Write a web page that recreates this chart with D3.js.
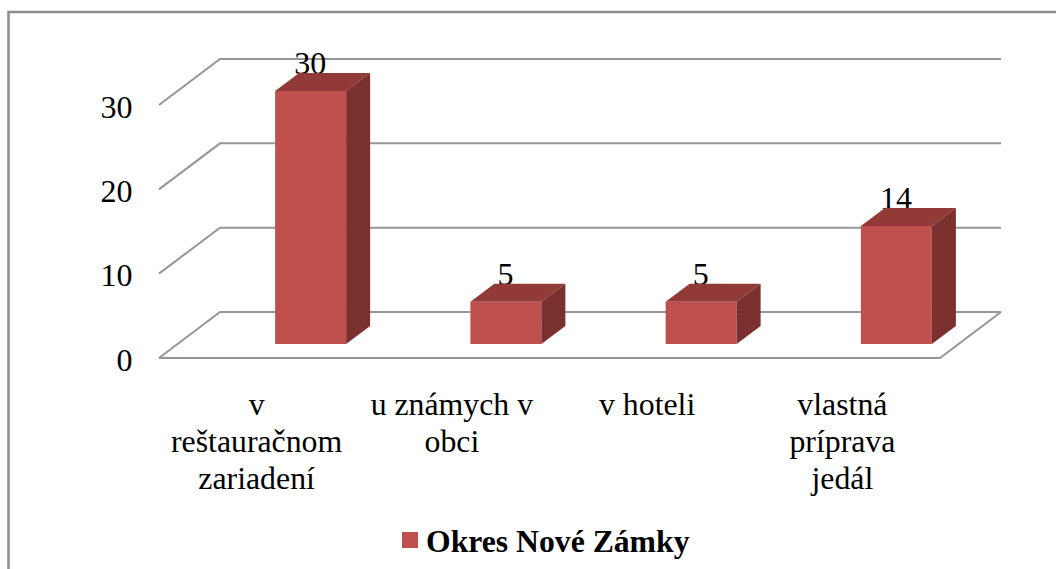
<!DOCTYPE html>
<html>
<head>
<meta charset="utf-8">
<script src="https://d3js.org/d3.v7.min.js"></script>
<style>
body { margin: 0; background: #fff; }
svg { display: block; }
text { font-family: "Liberation Serif", serif; fill: #000; }
</style>
</head>
<body>
<div id="chart"></div>
<script>
// chart data
var categories = ["v reštauračnom zariadení", "u známych v obci", "v hoteli", "vlastná príprava jedál"];
var categoryLines = [["v", "reštauračnom", "zariadení"], ["u známych v", "obci"], ["v hoteli"], ["vlastná", "príprava", "jedál"]];
var values = [30, 5, 5, 14];
var yTicks = [0, 10, 20, 30];
var seriesName = "Okres Nové Zámky";

var svgWidth = 1056;
var svgHeight = 569;

var svg = d3.select("#chart")
    .append("svg")
    .attr("width", svgWidth)
    .attr("height", svgHeight);

// outer border, only top and left are inside the picture
svg.append("path")
    .attr("d", "M8.5," + svgHeight + "L8.5,12L" + svgWidth + ",12")
    .attr("fill", "none")
    .attr("stroke", "#8c8c8c")
    .attr("stroke-width", 2.5);

// scales
var yScale = d3.scaleLinear().domain([0, 30]).range([358, 105]);
var xScale = d3.scaleBand().domain(categories).range([159, 940]);

var wallDx = 61;
var wallDy = -46;
var barFloor = -14;     // bars stand a bit back from the front edge
var barShift = 54;
var barWidth = 71;
var depthDx = 24;
var depthDy = -18;

// grid lines: slanted on the side wall, flat on the back wall
var gridColor = "#969696";
var grid = svg.append("g")
    .attr("fill", "none")
    .attr("stroke", gridColor)
    .attr("stroke-width", 2);

grid.selectAll("path")
    .data(yTicks)
    .enter()
    .append("path")
    .attr("d", function(d) {
        var p = d3.path();
        p.moveTo(159, yScale(d));
        p.lineTo(159 + wallDx, yScale(d) + wallDy);
        p.lineTo(940 + wallDx, yScale(d) + wallDy);
        return p.toString();
    });

// floor front edges
grid.append("path")
    .attr("d", "M159," + yScale(0) + "L940," + yScale(0) + "L" + (940 + wallDx) + "," + (yScale(0) + wallDy));

// y axis labels
var leftAxis = d3.axisLeft(yScale)
    .tickValues(yTicks)
    .tickSize(0)
    .tickPadding(0);

var yAxis = svg.append("g")
    .attr("transform", "translate(132.5,2)")
    .call(leftAxis);
yAxis.select(".domain").remove();
yAxis.selectAll("text")
    .style("font-size", "32px")
    .style("font-family", '"Liberation Serif", serif');

// value labels go under the bars, the top faces cover their feet a little
svg.selectAll(".value")
    .data(values)
    .enter()
    .append("text")
    .attr("class", "value")
    .attr("x", function(d, i) { return xScale(categories[i]) + xScale.bandwidth() / 2 + barShift - 0.5; })
    .attr("y", function(d) { return yScale(d) + barFloor + depthDy + 1; })
    .attr("text-anchor", "middle")
    .style("font-size", "32px")
    .text(function(d) { return d; });

// 3d bars
var bars = svg.selectAll(".bar")
    .data(values)
    .enter()
    .append("g")
    .attr("class", "bar")
    .attr("transform", function(d, i) {
        var left = xScale(categories[i]) + xScale.bandwidth() / 2 + barShift - barWidth / 2;
        return "translate(" + left + "," + (yScale(0) + barFloor) + ")";
    });

bars.append("rect")
    .attr("x", 0)
    .attr("y", function(d) { return yScale(d) - yScale(0); })
    .attr("width", barWidth)
    .attr("height", function(d) { return yScale(0) - yScale(d); })
    .attr("fill", "#c0504d");

bars.append("path")
    .attr("fill", "#913a38")
    .attr("d", function(d) {
        var top = yScale(d) - yScale(0);
        return "M0," + top + "L" + depthDx + "," + (top + depthDy) +
            "L" + (barWidth + depthDx) + "," + (top + depthDy) +
            "L" + barWidth + "," + top + "Z";
    });

bars.append("path")
    .attr("fill", "#7a302e")
    .attr("d", function(d) {
        var top = yScale(d) - yScale(0);
        return "M" + barWidth + "," + top + "L" + (barWidth + depthDx) + "," + (top + depthDy) +
            "L" + (barWidth + depthDx) + "," + depthDy +
            "L" + barWidth + ",0Z";
    });

// category labels
var catLabels = svg.selectAll(".cat")
    .data(categoryLines)
    .enter()
    .append("text")
    .attr("class", "cat")
    .attr("text-anchor", "middle")
    .style("font-size", "31.8px");

catLabels.selectAll("tspan")
    .data(function(d, i) {
        return d.map(function(line, j) { return { line: line, row: j, cat: categories[i] }; });
    })
    .enter()
    .append("tspan")
    .attr("x", function(d) { return xScale(d.cat) + xScale.bandwidth() / 2; })
    .attr("y", function(d) { return 415 + d.row * 37; })
    .text(function(d) { return d.line; });

// legend
svg.append("rect")
    .attr("x", 402)
    .attr("y", 532)
    .attr("width", 16)
    .attr("height", 16)
    .attr("fill", "#c0504d");

svg.append("text")
    .attr("x", 426)
    .attr("y", 552)
    .style("font-size", "31.7px")
    .style("font-weight", "bold")
    .text(seriesName);
</script>
</body>
</html>
